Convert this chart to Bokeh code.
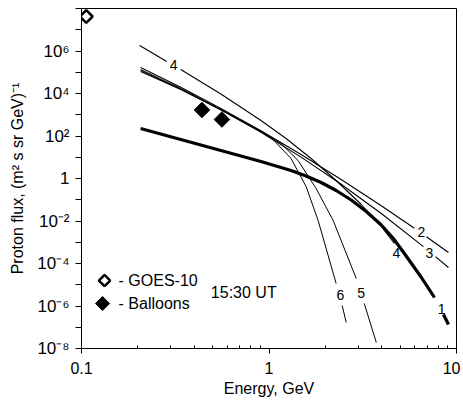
import numpy as np
from bokeh.plotting import figure
from bokeh.models import FixedTicker, CustomJSTickFormatter
from bokeh.core.properties import value
from bokeh.embed import file_html
from bokeh.resources import INLINE

nan = float("nan")

# ---- data ----
c1_E = [0.2067, 0.3383, 0.5538, 0.9062, 1.3110, 1.5771, 1.8973, 2.2815, 2.7446, 3.3016, 3.9715,
        4.6045, 5.2720, 6.5000, 7.6273, nan, 8.5214, 9.0632]
c1_F = [225.4, 68.4, 20.78, 6.31, 2.379, 1.311, 0.6482, 0.2724, 0.09732, 0.02800, 6.48e-3,
        1.501e-3, 2.955e-4, 2.194e-5, 2.512e-6, nan, 3.98e-7, 1.347e-7]

c2_E = [0.2067, 0.3383, 0.5538, 0.9062, 1.4829, 2.4268, 3.9715, 5.9631, nan, 6.9127, 9.0632]
c2_F = [1.673e5, 1.957e4, 1968, 175.6, 13.47, 0.8975, 0.05248, 4.53e-3, nan, 1.825e-3, 3.294e-4]

c3_E = [0.2067, 0.3383, 0.5538, 0.9062, 1.4829, 2.4268, 3.9715, 6.6620, nan, 7.7218, 9.0632]
c3_F = [1.085e5, 1.542e4, 1710, 149.4, 10.16, 0.5393, 0.02254, 6.24e-4, nan, 2.112e-4, 6.48e-5]

c4_E = [0.2043, 0.2848, nan, 0.3383, 0.5538, 0.9062, 1.2328, 1.6774, 2.2815, 3.1045, 3.9715, 4.6615]
c4_F = [1.815e6, 3.205e5, nan, 1.347e5, 9474, 536.3, 76.3, 8.73, 0.805, 0.05977, 5.51e-3, 8.73e-4]

c5_E = [0.2067, 0.3383, 0.5538, 0.9062, 1.1591, 1.4291, 1.7840, 2.1988, 2.9192, nan, 3.2212, 3.7350]
c5_F = [1.347e5, 1.719e4, 1767, 162.8, 44.4, 7.03, 0.3383, 0.01056, 1.968e-5, nan, 1.311e-6, 1.916e-8]

c6_E = [0.2067, 0.3383, 0.5538, 0.9062, 1.0505, 1.3110, 1.5771, 1.8284, 2.2815, nan, 2.4568, 2.5803]
c6_F = [1.209e5, 1.628e4, 1673, 162.8, 68.4, 8.73, 0.4202, 0.01056, 1.145e-5, nan, 1.056e-6, 1.673e-7]

goes_E = [0.106]
goes_F = [4.2e7]
balloon_E = [0.439, 0.561]
balloon_F = [1675, 597]

curve_label_text = ["4", "2", "3", "4", "6", "5", "1"]
curve_label_E = [0.310, 6.50, 7.17, 4.78, 2.40, 3.10, 8.32]
curve_label_F = [2.08e5, 2.88e-3, 2.96e-4, 2.96e-4, 3.12e-6, 4.31e-6, 7.62e-7]

legend_text = ["- GOES-10", "- Balloons"]
legend_E = [0.1327, 0.1295]
legend_F = [1.58e-5, 1.31e-6]
legend_text_E = [0.1577, 0.1577]
time_text = ["15:30 UT"]
time_E = [0.4896]
time_F = [4.31e-6]

x_ticks = [0.1, 1, 10]
x_tick_labels = ["0.1", "1", "10"]
x_minor = [0.2, 0.3, 0.4, 0.5, 0.6, 0.7, 0.8, 0.9, 2, 3, 4, 5, 6, 7, 8, 9]
y_tick_exp = list(range(-8, 9))
y_tick_labels = ["10\u207b\u2078", "", "10\u207b\u2076", "", "10\u207b\u2074", "", "10\u207b\u00b2", "",
                 "1", "", "10\u00b2", "", "10\u2074", "", "10\u2076", "", ""]

FONT = "Liberation Sans"

p = figure(width=460, height=399, x_axis_type="log", y_axis_type="log",
           x_range=(0.1, 10), y_range=(1e-8, 1e8),
           output_backend="svg", toolbar_location=None,
           min_border_left=81, min_border_right=4, min_border_top=8, min_border_bottom=45)
p.grid.visible = False
p.outline_line_color = "black"
p.outline_line_width = 1
p.background_fill_color = "white"
p.border_fill_color = "white"

# curves
for E, F, w in [(c2_E, c2_F, 1.1), (c3_E, c3_F, 1.1), (c5_E, c5_F, 1.0), (c6_E, c6_F, 1.0),
                (c4_E, c4_F, 1.1)]:
    p.line(np.array(E, dtype=float), np.array(F, dtype=float), line_color="black", line_width=w)
p.line(np.array(c1_E, dtype=float), np.array(c1_F, dtype=float), line_color="black", line_width=3.2,
       line_join="round")

# data points
p.scatter(goes_E, goes_F, marker="square", angle=np.pi / 4, size=9,
          fill_color="white", line_color="black", line_width=2.5)
p.scatter(balloon_E, balloon_F, marker="square", angle=np.pi / 4, size=11,
          fill_color="black", line_color="black")

# curve labels
p.text(curve_label_E, curve_label_F, text=curve_label_text, text_font=value(FONT),
       text_font_size="14px", text_align="center", text_baseline="middle", text_color="black")

# legend (drawn manually)
p.scatter([legend_E[0]], [legend_F[0]], marker="square", angle=np.pi / 4, size=8,
          fill_color="white", line_color="black", line_width=2.5)
p.scatter([legend_E[1]], [legend_F[1]], marker="square", angle=np.pi / 4, size=10,
          fill_color="black", line_color="black")
p.text(legend_text_E, legend_F, text=legend_text, text_font=value(FONT),
       text_font_size="16px", text_align="left", text_baseline="middle", text_color="black")
p.text(time_E, time_F, text=time_text, text_font=value(FONT),
       text_font_size="16px", text_align="left", text_baseline="middle", text_color="black")

# axes
p.xaxis.ticker = FixedTicker(ticks=x_ticks, minor_ticks=x_minor)
p.xaxis.formatter = CustomJSTickFormatter(args=dict(vals=x_ticks, labs=x_tick_labels), code="""
    for (let i = 0; i < vals.length; i++) { if (Math.abs(Math.log10(tick) - Math.log10(vals[i])) < 1e-6) return labs[i]; }
    return "";
""")
p.yaxis.ticker = FixedTicker(ticks=[10.0 ** e for e in y_tick_exp], minor_ticks=[])
p.yaxis.formatter = CustomJSTickFormatter(args=dict(exps=y_tick_exp, labs=y_tick_labels), code="""
    const e = Math.round(Math.log10(tick));
    const i = exps.indexOf(e);
    return i >= 0 ? labs[i] : "";
""")
for ax in (p.xaxis[0], p.yaxis[0]):
    ax.axis_line_color = "black"
    ax.major_tick_line_color = "black"
    ax.minor_tick_line_color = "black"
    ax.major_label_text_font = FONT
    ax.major_label_text_font_size = "16px"
    ax.major_label_text_color = "black"
    ax.axis_label_text_font = FONT
    ax.axis_label_text_font_size = "16px"
    ax.axis_label_text_font_style = "normal"
    ax.axis_label_text_color = "black"
p.yaxis.major_label_text_font_size = "17px"
p.xaxis.major_tick_in = 0
p.xaxis.major_tick_out = 5
p.xaxis.minor_tick_in = 3
p.xaxis.minor_tick_out = 0
p.xaxis.major_label_standoff = 8
p.yaxis.major_tick_in = 0
p.yaxis.major_tick_out = 6
p.yaxis.major_label_standoff = 6
p.xaxis.axis_label = "Energy, GeV"
p.yaxis.axis_label = "Proton flux, (m\u00b2 s sr GeV)\u207b\u00b9"
p.xaxis.axis_label_standoff = 3
p.yaxis.axis_label_standoff = 8

open("out.html", "w").write(file_html(p, INLINE))
